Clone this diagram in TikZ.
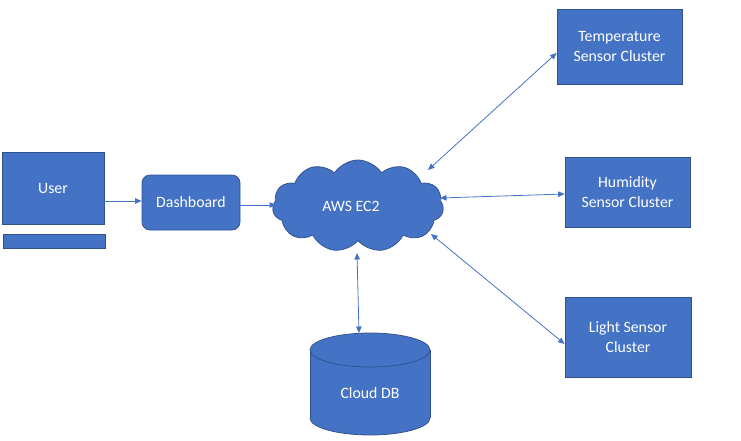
\documentclass[tikz,border=0pt]{standalone}
\usepackage{fontspec}
\setmainfont{Carlito}
\usetikzlibrary{shapes.symbols,arrows.meta}
\definecolor{boxfill}{HTML}{4472C4}
\definecolor{boxedge}{HTML}{2F528F}
\definecolor{linkcol}{HTML}{4472C4}
\begin{document}
\begin{tikzpicture}[x=1pt,y=-1pt,
  every node/.style={font=\fontsize{15.8}{20}\selectfont, text=white, align=center, inner sep=0pt},
  blk/.style={draw=boxedge, fill=boxfill, line width=0.75pt, rectangle},
  link/.style={draw=linkcol, line width=0.8pt},
  tip/.style={-{Triangle[length=6.5pt,width=5.5pt]}},
  tips/.style={{Triangle[length=6.5pt,width=5.5pt]}-{Triangle[length=6.5pt,width=5.5pt]}}]
\useasboundingbox (0,0) rectangle (741,441);
% nodes
\node[blk, minimum width=102pt, minimum height=72pt] (user) at (53,188) {User};
\node[blk, minimum width=102pt, minimum height=14pt] (bar) at (54,241) {};
\node[blk, rounded corners=8pt, minimum width=98pt, minimum height=55pt] (dash) at (191,202.5) {Dashboard};
\node[cloud, cloud puffs=11, cloud puff arc=115, draw=boxedge, fill=boxfill, line width=0.75pt,
      minimum width=171pt, minimum height=92pt, aspect=1.9] (cloud) at (358,206) {};
\node (cloudtxt) at (351,206) {AWS EC2};
\node[blk, minimum width=125pt, minimum height=75pt] (temp) at (619.5,46.5) {Temperature\\Sensor Cluster};
\node[blk, minimum width=125pt, minimum height=70pt] (hum) at (627.5,192) {Humidity\\Sensor Cluster};
\node[blk, minimum width=126pt, minimum height=80pt] (light) at (628,337) {Light Sensor\\Cluster};
% cylinder
\fill[boxfill] (310,350) rectangle (430,418);
\fill[boxfill] (370,418) ellipse [x radius=60, y radius=17];
\begin{scope}
\clip (300,418) rectangle (440,441);
\draw[boxedge, line width=0.75pt] (370,418) ellipse [x radius=60, y radius=17];
\end{scope}
\draw[boxedge, line width=0.75pt] (310,350) -- (310,418) (430,350) -- (430,418);
\draw[boxedge, fill=boxfill, line width=0.75pt] (370,350) ellipse [x radius=60, y radius=17];
\node[minimum width=120pt, minimum height=102pt] (db) at (370,384) {};
\node (dbtxt) at (370,393) {Cloud DB};
% connector endpoints on cloud
\coordinate (cdash) at (276,205);
\coordinate (ctemp) at (428,170);
\coordinate (chum) at (440,198);
\coordinate (clight) at (431,234);
\coordinate (cdb) at (357,253);
\coordinate (dbtop) at (359,333);
% connectors
\draw[link, tip] (user.east |- 0,201) -- (dash.west |- 0,201);
\draw[link, tip] (dash.east |- 0,205) -- (cdash);
\draw[link, tips] (ctemp) -- (temp.west |- 0,53);
\draw[link, tips] (chum) -- (hum.west |- 0,194);
\draw[link, tips] (clight) -- (light.west |- 0,344);
\draw[link, tips] (cdb) -- (dbtop);
\end{tikzpicture}
\end{document}
